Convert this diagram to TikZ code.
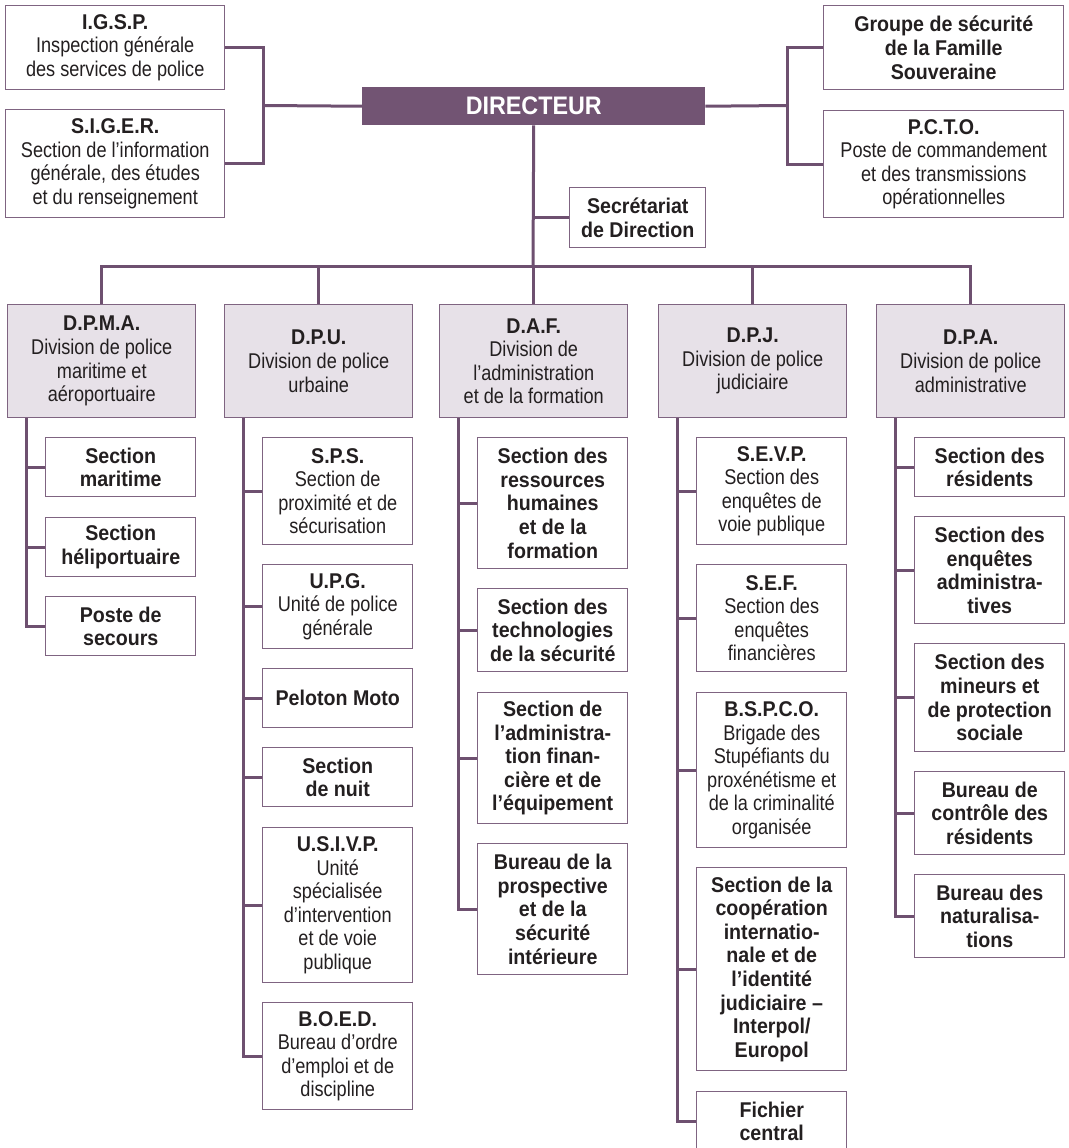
\documentclass[tikz,border=0pt]{standalone}
\usepackage{fontspec}
\setmainfont{Liberation Sans}[FakeStretch=0.85,BoldFeatures={FakeStretch=0.92}]
\definecolor{orgline}{HTML}{6E5070}
\definecolor{orgbord}{HTML}{7F6481}
\definecolor{orgdir}{HTML}{725473}
\definecolor{orgdiv}{HTML}{E7E1E8}
\definecolor{orgtext}{HTML}{231F20}
\tikzset{
  conn/.style={draw=orgline,line width=2.25pt},
  box/.style={draw=orgbord,line width=1.1pt,fill=white,anchor=north west,
    align=center,inner sep=2pt,text=orgtext,
    font=\fontsize{16}{17.7}\selectfont},
  hgt/.style={minimum height=#1*0.75pt},
  wid/.style={minimum width=#1*0.75pt},
  divbox/.style={box,fill=orgdiv,wid=188,hgt=113},
  subbox/.style={box,wid=150}
}
\begin{document}
\begin{tikzpicture}[x=0.75pt,y=-0.75pt]
  \useasboundingbox (0,0) rectangle (1068,1148);
  % direction
  \node[box,fill=orgdir,draw=orgdir,wid=342,hgt=37,text=white,
    font=\fontsize{19}{20}\selectfont\bfseries] (dir) at (362,87) {DIRECTEUR};
  \node[box,wid=219,hgt=84] (igsp) at (5,5)
    {\textbf{I.G.S.P.}\\Inspection générale\\des services de police};
  \node[box,wid=219,hgt=108] (siger) at (5,109)
    {\textbf{S.I.G.E.R.}\\Section de l’information\\générale, des études\\et du renseignement};
  \node[box,wid=240,hgt=84,font=\fontsize{16}{17.7}\selectfont\bfseries] (gsfs) at (823,5)
    {Groupe de sécurité\\de la Famille\\Souveraine};
  \node[box,wid=240,hgt=107] (pcto) at (823,110)
    {\textbf{P.C.T.O.}\\Poste de commandement\\et des transmissions\\opérationnelles};
  \node[box,wid=136,hgt=60,font=\fontsize{16}{17.7}\selectfont\bfseries] (sec) at (569,187)
    {Secrétariat\\de Direction};
  \coordinate (lj) at (263,105.5);
  \coordinate (rj) at (787,105.5);
  \coordinate (bus) at (533,266);
  \draw[conn] (igsp.east) -| (lj) |- (siger.east);
  \draw[conn] (lj) -- (dir.west);
  \draw[conn] (gsfs.west) -| (rj) |- (pcto.west);
  \draw[conn] (rj) -- (dir.east);
  \draw[conn] (dir.south) -- (bus);
  \draw[conn] (sec.west) -- (sec.west -| bus);
  % divisions
  \node[divbox] (dpma) at (7,304)
    {\textbf{D.P.M.A.}\\Division de police\\maritime et\\aéroportuaire};
  \node[divbox] (dpu) at (224,304)
    {\textbf{D.P.U.}\\Division de police\\urbaine};
  \node[divbox] (daf) at (439,304)
    {\textbf{D.A.F.}\\Division de\\l’administration\\et de la formation};
  \node[divbox] (dpj) at (658,304)
    {\textbf{D.P.J.}\\Division de police\\judiciaire};
  \node[divbox] (dpa) at (876,304)
    {\textbf{D.P.A.}\\Division de police\\administrative};
  \draw[conn] (dpma.north) -- (dpma.north |- bus) -- (dpa.north |- bus) -- (dpa.north);
  \foreach \d in {dpu,daf,dpj}
    \draw[conn] (\d.north) -- (\d.north |- bus);
  % sections
  \begin{scope}[every node/.style={subbox,font=\fontsize{16}{17.7}\selectfont\bfseries}]
    \node[hgt=59] (smar) at (45,437) {Section\\maritime};
    \node[hgt=59] (shel) at (45,517) {Section\\héliportuaire};
    \node[hgt=59] (spos) at (45,596) {Poste de\\secours};
    \node[hgt=59] (pmoto) at (262,668) {Peloton Moto};
    \node[hgt=59] (snuit) at (262,747) {Section\\de nuit};
    \node[hgt=131] (srh) at (477,437) {Section des\\ressources\\humaines\\et de la\\formation};
    \node[hgt=83] (stech) at (477,588) {Section des\\technologies\\de la sécurité};
    \node[hgt=131] (safe) at (477,692) {Section de\\l’administra-\\tion finan-\\cière et de\\l’équipement};
    \node[hgt=131] (bpro) at (477,843) {Bureau de la\\prospective\\et de la\\sécurité\\intérieure};
    \node[hgt=203] (scoop) at (696,867) {Section de la\\coopération\\internatio-\\nale et de\\l’identité\\judiciaire –\\Interpol/\\Europol};
    \node[hgt=59] (fich) at (696,1091) {Fichier\\central};
    \node[hgt=59] (sres) at (914,437) {Section des\\résidents};
    \node[hgt=107] (sadm) at (914,516) {Section des\\enquêtes\\administra-\\tives};
    \node[hgt=108] (smin) at (914,643) {Section des\\mineurs et\\de protection\\sociale};
    \node[hgt=83] (bctl) at (914,771) {Bureau de\\contrôle des\\résidents};
    \node[hgt=83] (bnat) at (914,874) {Bureau des\\naturalisa-\\tions};
  \end{scope}
  \node[subbox,hgt=107] (sps) at (262,437)
    {\textbf{S.P.S.}\\Section de\\proximité et de\\sécurisation};
  \node[subbox,hgt=84] (upg) at (262,564)
    {\textbf{U.P.G.}\\Unité de police\\générale};
  \node[subbox,hgt=155] (usivp) at (262,827)
    {\textbf{U.S.I.V.P.}\\Unité\\spécialisée\\d’intervention\\et de voie\\publique};
  \node[subbox,hgt=107] (boed) at (262,1002)
    {\textbf{B.O.E.D.}\\Bureau d’ordre\\d’emploi et de\\discipline};
  \node[subbox,hgt=107] (sevp) at (696,437)
    {\textbf{S.E.V.P.}\\Section des\\enquêtes de\\voie publique};
  \node[subbox,hgt=107] (sef) at (696,564)
    {\textbf{S.E.F.}\\Section des\\enquêtes\\financières};
  \node[subbox,hgt=155] (bspco) at (696,692)
    {\textbf{B.S.P.C.O.}\\Brigade des\\Stupéfiants du\\proxénétisme et\\de la criminalité\\organisée};
  \foreach \d/\s in {dpma/smar,dpma/shel,dpma/spos,
                     dpu/sps,dpu/upg,dpu/pmoto,dpu/snuit,dpu/usivp,dpu/boed,
                     daf/srh,daf/stech,daf/safe,daf/bpro,
                     dpj/sevp,dpj/sef,dpj/bspco,dpj/scoop,dpj/fich,
                     dpa/sres,dpa/sadm,dpa/smin,dpa/bctl,dpa/bnat}
    \draw[conn] (\d.south west) ++(19,0) |- (\s.west);
\end{tikzpicture}
\end{document}
